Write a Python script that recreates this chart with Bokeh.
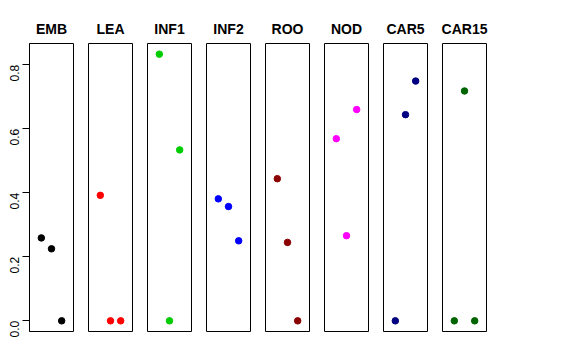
from bokeh.plotting import figure
from bokeh.layouts import row
from bokeh.models import Range1d, FixedTicker, ColumnDataSource, PrintfTickFormatter
from bokeh.embed import file_html
from bokeh.resources import INLINE

categories = ["EMB", "LEA", "INF1", "INF2", "ROO", "NOD", "CAR5", "CAR15"]
positions = [1, 2, 3]
emb = [0.259, 0.225, 0.0]
lea = [0.392, 0.0, 0.0]
inf1 = [0.833, 0.0, 0.534]
inf2 = [0.381, 0.357, 0.250]
roo = [0.444, 0.245, 0.0]
nod = [0.569, 0.266, 0.660]
car5 = [0.0, 0.644, 0.749]
car15 = [0.0, 0.718, 0.0]
series = [emb, lea, inf1, inf2, roo, nod, car5, car15]
colors = ["black", "red", "#00CD00", "blue", "#8B0000", "magenta", "#000080", "#006400"]
y_ticks = [0.0, 0.2, 0.4, 0.6, 0.8]

ymin = min(min(s) for s in series)
ymax = max(max(s) for s in series)
pad = 0.04 * (ymax - ymin)
xlo, xhi = 0, 4
xpad = 0.04 * (xhi - xlo)

FONT = "Liberation Sans"
figs = []
for i, (cat, vals, col) in enumerate(zip(categories, series, colors)):
    first = i == 0
    p = figure(frame_width=44, frame_height=288,
               output_backend="svg", toolbar_location=None,
               x_range=Range1d(xlo - xpad, xhi + xpad),
               y_range=Range1d(ymin - pad, ymax + pad),
               x_axis_location=None,
               y_axis_location="left" if first else None,
               min_border_left=29 if first else 8,
               min_border_right=7, min_border_top=43, min_border_bottom=10,
               title=cat)
    p.title.text_font = FONT
    p.title.text_font_style = "bold"
    p.title.text_font_size = "14px"
    p.title.text_color = "black"
    p.title.align = "center"
    p.title.standoff = 14
    p.grid.visible = False
    p.outline_line_color = "black"
    p.outline_line_width = 1
    p.outline_line_alpha = 1
    p.background_fill_color = "white"
    p.border_fill_color = "white"
    if first:
        ax = p.yaxis[0]
        ax.ticker = FixedTicker(ticks=y_ticks)
        ax.formatter = PrintfTickFormatter(format="%.1f")
        ax.minor_tick_line_color = None
        ax.major_tick_out = 7
        ax.major_tick_in = 0
        ax.major_label_orientation = 1.5708
        ax.major_label_standoff = 8
        ax.major_label_text_font = FONT
        ax.major_label_text_font_size = "12px"
        ax.major_label_text_color = "black"
        ax.axis_line_color = "black"
        ax.major_tick_line_color = "black"
    src = ColumnDataSource(dict(x=positions, y=vals))
    p.scatter("x", "y", source=src, size=6.5, color=col, line_color=col)
    figs.append(p)

layout = row(*figs, spacing=0)
open("out.html", "w").write(file_html(layout, INLINE))
